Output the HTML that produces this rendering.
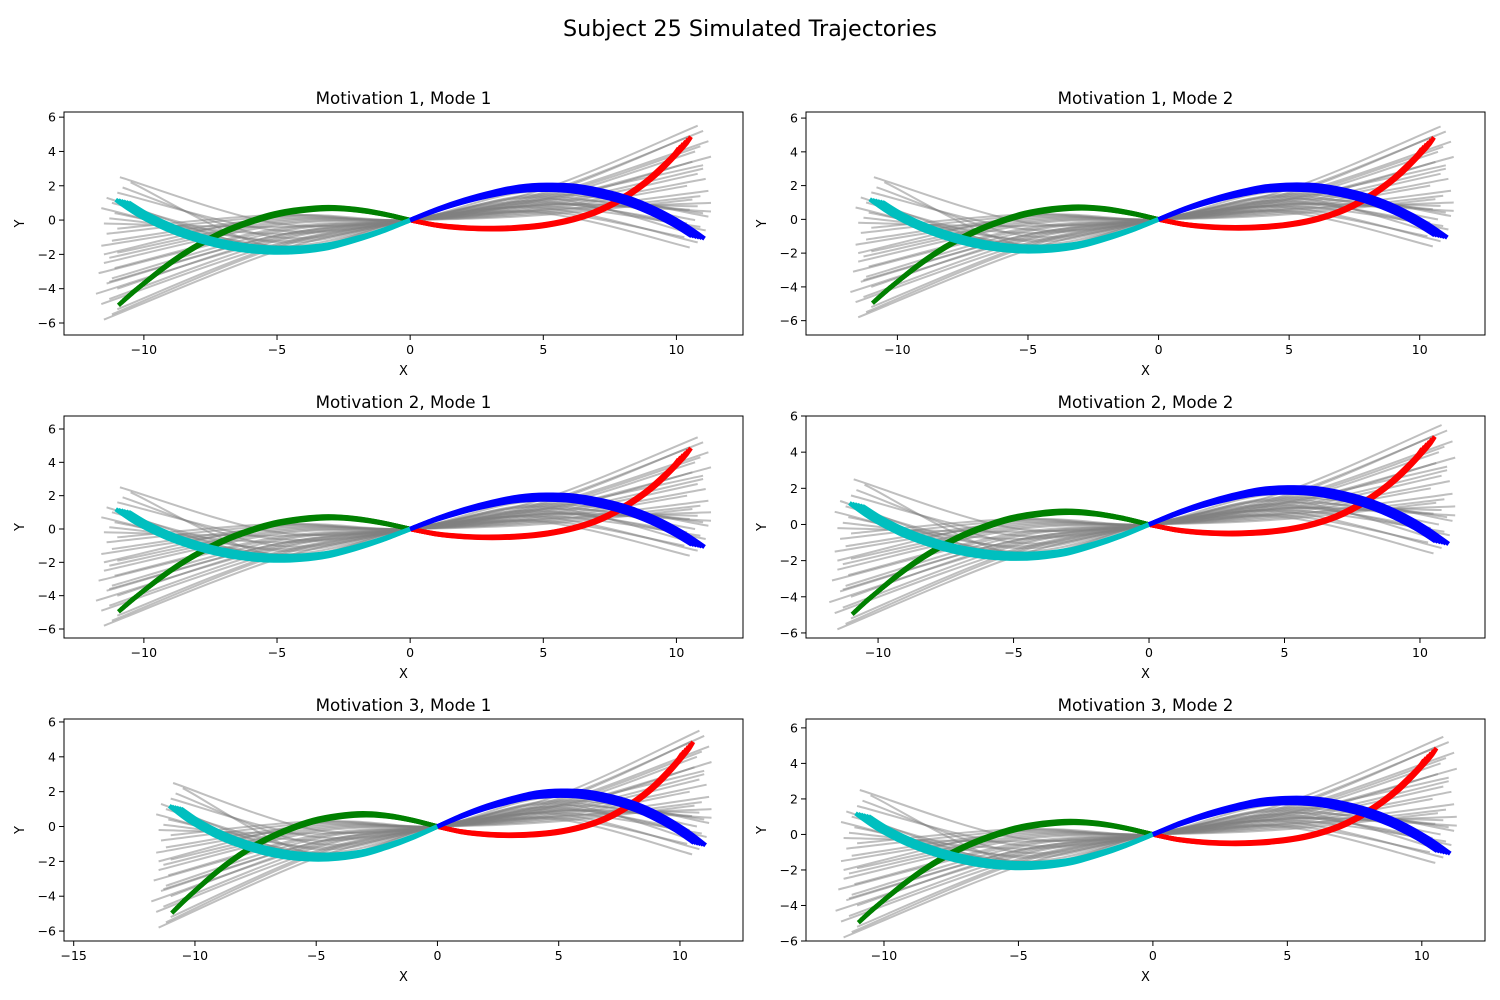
<!DOCTYPE html>
<html><head><meta charset="utf-8"><style>
body{margin:0;background:#fff;}
svg{display:block;font-family:"DejaVu Sans","Liberation Sans",sans-serif;}
</style></head><body>
<svg id="fig" width="1500" height="1000" viewBox="0 0 1500 1000">
<text x="750" y="36" font-size="22.3" text-anchor="middle">Subject 25 Simulated Trajectories</text>
</svg>
<script>
// target curve data (x, y)
const redX=[0,1,2,3,4,5,6,7,8,9,10,10.3];
const redY=[0,-0.3,-0.45,-0.5,-0.45,-0.3,0,0.5,1.3,2.4,3.9,4.5];
const blueX=[0,1,2,3,4,5,6,7,8,9,10,10.8];
const blueY=[0,0.6,1.1,1.5,1.8,1.9,1.85,1.6,1.2,0.6,-0.2,-1.0];
const greenX=[0,-1,-2,-3,-4,-5,-6,-7,-8,-9,-10,-10.7];
const greenY=[0,0.35,0.6,0.7,0.6,0.35,-0.1,-0.7,-1.5,-2.5,-3.7,-4.6];
const cyanX=[0,-1,-2,-3,-4,-5,-6,-7,-8,-9,-10,-10.8];
const cyanY=[0,-0.6,-1.1,-1.5,-1.7,-1.75,-1.65,-1.4,-1.0,-0.45,0.3,1.1];
const fanScales=[0.93,0.96,0.99,1.02,1.05,1.08];
// grey simulated trajectories: start, mid-left (x=-5), mid-right (x=5), end
const greyStartX=[-11.5,-11.2,-11,-11.6,-11.3,-11.8,-11,-11.4,-11.2,-11.7,-11.1,-11.5,-11.3,-11,-11.6,-11.2,-11.4,-11,-11.5,-11.3,-11.1,-11.6,-11.2,-11.4,-11,-10.8,-10.5,-10.9,-11.3,-11.5];
const greyStartY=[-5.8,-5.5,-5.2,-4.9,-4.6,-4.3,-4.0,-3.7,-3.4,-3.1,-2.8,-2.5,-2.2,-1.9,-1.5,-1.2,-0.8,-0.5,-0.2,0.1,0.4,0.7,1.0,1.3,1.6,1.9,2.2,2.5,-3.6,-2.0];
const greyMidL=[-1.8,-1.6,-1.5,-1.4,-1.2,-1.1,-1.0,-0.9,-0.7,-0.6,-0.5,-0.3,-0.2,-0.1,0,0.1,0.2,0.3,-0.4,-0.8,-1.2,-1.5,-1.3,-1.7,-0.6,-1.0,-1.6,-0.2,-0.9,0.2];
const greyMidR=[1.8,1.6,1.5,1.4,1.3,1.2,1.1,1.0,0.9,0.8,0.7,0.6,0.5,0.4,0.3,0.6,0.9,1.2,1.5,1.7,1.4,1.0,0.8,1.1,1.3,0.5,0.7,0.4,1.2,0.9];
const greyEndX=[10.8,11,10.5,11.2,10.9,10.7,11.3,10.6,11,10.8,11.1,10.4,11.2,10.9,10.6,11.3,10.8,10.5,11,11.2,10.7,10.4,10.9,11.1,10.6,10.3,10.8,10.5,11,11.3];
const greyEndY=[5.5,5.2,4.9,4.6,4.3,4.0,3.7,3.4,3.0,2.7,2.4,2.0,1.7,1.4,1.2,1.0,0.8,0.6,0.4,0.2,0,-0.2,-0.4,-0.6,-0.8,-1.0,-1.3,-1.6,3.2,0.5];
const panelTitles=["Motivation 1, Mode 1","Motivation 1, Mode 2","Motivation 2, Mode 1","Motivation 2, Mode 2","Motivation 3, Mode 1","Motivation 3, Mode 2"];
const panelXTicks=[[-10,-5,0,5,10],[-10,-5,0,5,10],[-10,-5,0,5,10],[-10,-5,0,5,10],[-15,-10,-5,0,5,10],[-10,-5,0,5,10]];
const panelYTicks=[-6,-4,-2,0,2,4,6];

const panels=[
 {l:64,t:112,r:743,b:335,x0:-13.0,x1:12.5,y0:-6.7,y1:6.3},
 {l:806,t:112,r:1485,b:335,x0:-13.5,x1:12.5,y0:-6.85,y1:6.36},
 {l:64,t:416,r:743,b:638,x0:-13.0,x1:12.5,y0:-6.54,y1:6.78},
 {l:806,t:416,r:1485,b:638,x0:-12.66,x1:12.4,y0:-6.28,y1:6.0},
 {l:64,t:719,r:743,b:941,x0:-15.4,x1:12.6,y0:-6.57,y1:6.17},
 {l:806,t:719,r:1485,b:941,x0:-12.9,x1:12.35,y0:-6.0,y1:6.5}
];
const NS="http://www.w3.org/2000/svg";
const fig=document.getElementById('fig');
function mk(tag,attrs,parent){const e=document.createElementNS(NS,tag);for(const k in attrs)e.setAttribute(k,attrs[k]);parent.appendChild(e);return e;}
function catmull(pts){let d="M"+pts[0][0].toFixed(1)+","+pts[0][1].toFixed(1);
 for(let i=0;i<pts.length-1;i++){const p0=pts[i-1]||pts[i],p1=pts[i],p2=pts[i+1],p3=pts[i+2]||p2;
  const c1=[p1[0]+(p2[0]-p0[0])/6,p1[1]+(p2[1]-p0[1])/6],c2=[p2[0]-(p3[0]-p1[0])/6,p2[1]-(p3[1]-p1[1])/6];
  d+="C"+c1[0].toFixed(1)+","+c1[1].toFixed(1)+" "+c2[0].toFixed(1)+","+c2[1].toFixed(1)+" "+p2[0].toFixed(1)+","+p2[1].toFixed(1);}
 return d;}

panels.forEach((p,pi)=>{
 const sx=v=>p.l+(v-p.x0)/(p.x1-p.x0)*(p.r-p.l);
 const sy=v=>p.b-(v-p.y0)/(p.y1-p.y0)*(p.b-p.t);
 const g=mk('g',{},fig);
 
 
 const cid='clip'+pi;
 const cp=mk('clipPath',{id:cid},g);mk('rect',{x:p.l,y:p.t,width:p.r-p.l,height:p.b-p.t},cp);
 const plot=mk('g',{'clip-path':'url(#'+cid+')'},g);
 for(let i=0;i<greyStartY.length;i++){
  const pts=[[greyStartX[i],greyStartY[i]],[-5,greyMidL[i]],[0,0],[5,greyMidR[i]],[greyEndX[i],greyEndY[i]]].map(q=>[sx(q[0]),sy(q[1])]);
  const e=mk('path',{d:catmull(pts),fill:'none',stroke:'#808080','stroke-opacity':0.5,'stroke-width':2},plot);
  
  
 }
 const curves=[[greenX,greenY,'#008000','green-target'],[redX,redY,'#ff0000','red-target'],[cyanX,cyanY,'#00bfbf','cyan-target'],[blueX,blueY,'#0000ff','blue-target']];
 curves.forEach(c=>{
  fanScales.forEach(s=>{
   const pts=c[0].map((x,k)=>[sx(x*(1+(s-1)*0.3)),sy(c[1][k]*s)]);
   const e=mk('path',{d:catmull(pts),fill:'none',stroke:c[2],'stroke-width':4.5,'stroke-linecap':'butt'},plot);
   
   
  });
 });
 mk('rect',{x:p.l,y:p.t,width:p.r-p.l,height:p.b-p.t,fill:'none',stroke:'#000','stroke-width':1},g);
 panelXTicks[pi].forEach(v=>{const x=sx(v);
  mk('line',{x1:x,x2:x,y1:p.b,y2:p.b+5,stroke:'#000'},g);
  const t=mk('text',{x:x,y:p.b+19,'font-size':12.5,'text-anchor':'middle'},g);t.textContent=v<0?'\u2212'+(-v):v;
  });
 panelYTicks.forEach(v=>{const y=sy(v);if(y<p.t-1||y>p.b+1)return;
  mk('line',{x1:p.l-5,x2:p.l,y1:y,y2:y,stroke:'#000'},g);
  const t=mk('text',{x:p.l-8,y:y+4.5,'font-size':12.5,'text-anchor':'end'},g);t.textContent=v<0?'\u2212'+(-v):v;
  });
 const tt=mk('text',{x:(p.l+p.r)/2,y:p.t-8,'font-size':16.7,'text-anchor':'middle'},g);tt.textContent=panelTitles[pi];
 
 const xl=mk('text',{x:(p.l+p.r)/2,y:p.b+40,'font-size':13,'text-anchor':'middle'},g);xl.textContent='X';
 
 const yx=p.l-40,yy=(p.t+p.b)/2;
 const yl=mk('text',{x:yx,y:yy,'font-size':13,'text-anchor':'middle',transform:'rotate(-90 '+yx+' '+yy+')'},g);yl.textContent='Y';
 
});
</script>
</body></html>
